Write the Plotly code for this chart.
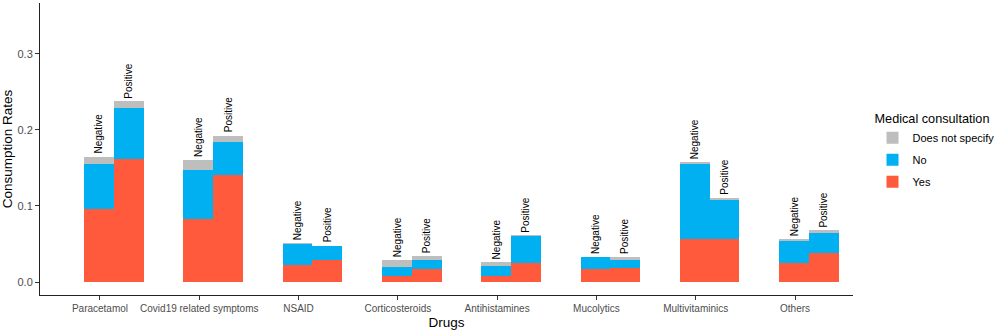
import plotly.graph_objects as go

drugs = ["Paracetamol", "Covid19 related symptoms", "NSAID", "Corticosteroids",
         "Antihistamines", "Mucolytics", "Multivitaminics", "Others"]
groups = ["Negative", "Positive"]

yes_neg = [0.096, 0.083, 0.022, 0.008, 0.008, 0.017, 0.057, 0.025]
no_neg = [0.059, 0.064, 0.028, 0.012, 0.013, 0.0165, 0.099, 0.029]
dns_neg = [0.010, 0.014, 0.0005, 0.0085, 0.005, 0.0, 0.0012, 0.0022]

yes_pos = [0.162, 0.141, 0.029, 0.017, 0.025, 0.019, 0.057, 0.0375]
no_pos = [0.067, 0.043, 0.019, 0.012, 0.036, 0.011, 0.0505, 0.027]
dns_pos = [0.0085, 0.0085, 0.0, 0.005, 0.0005, 0.0025, 0.0035, 0.0035]

y_ticks = [0.0, 0.1, 0.2, 0.3]

colors = {"Yes": "#FF5A3C", "No": "#00B0F0", "Does not specify": "#BEBEBE"}
legend_rank = {"Does not specify": 1, "No": 2, "Yes": 3}

# positions: negative bar on the category tick, positive bar nudged right
BW = 0.3
xs, labels = [], []
for i in range(len(drugs)):
    xs.append(i + 1 - 0.01)
    labels.append(groups[0])
    xs.append(i + 1 + BW - 0.01)
    labels.append(groups[1])

def interleave(a, b):
    out = []
    for u, v in zip(a, b):
        out += [u, v]
    return out

series = [
    ("Yes", interleave(yes_neg, yes_pos)),
    ("No", interleave(no_neg, no_pos)),
    ("Does not specify", interleave(dns_neg, dns_pos)),
]

fig = go.Figure()
for name, vals in series:
    fig.add_trace(go.Bar(
        x=xs, y=vals, width=BW, name=name, legendgroup=name,
        legendrank=legend_rank[name],
        marker=dict(color=colors[name], line=dict(width=0)),
    ))

totals = [a + b + c for a, b, c in zip(*[s[1] for s in series])]
for x, t, lab in zip(xs, totals, labels):
    fig.add_annotation(
        x=x, y=t, text=lab, textangle=-90, showarrow=False,
        xanchor="center", yanchor="bottom", yshift=1,
        font=dict(family="Arial, Liberation Sans, sans-serif", size=10, color="black"),
    )

axis_common = dict(
    showgrid=False, zeroline=False, showline=True, linecolor="#222222", linewidth=1,
    ticks="outside", ticklen=4, tickcolor="#333333", tickwidth=1,
)

fig.update_layout(
    width=996, height=331,
    margin=dict(l=40, r=143, t=3, b=36, autoexpand=False),
    plot_bgcolor="white", paper_bgcolor="white",
    barmode="stack", bargap=0,
    font=dict(family="Arial, Liberation Sans, sans-serif", color="#4D4D4D"),
    xaxis=dict(
        range=[0.396, 8.584], tickmode="array",
        tickvals=list(range(1, len(drugs) + 1)), ticktext=drugs,
        tickfont=dict(size=10, color="#4D4D4D"),
        title=dict(text="Drugs", font=dict(size=13.5, color="black"), standoff=4),
        **axis_common,
    ),
    yaxis=dict(
        range=[-0.0171, 0.367], tickmode="array", tickvals=y_ticks,
        ticktext=[f"{v:.1f}" for v in y_ticks],
        tickfont=dict(size=11, color="#4D4D4D"),
        title=dict(text="Consumption Rates", font=dict(size=13.5, color="black"), standoff=2),
        **axis_common,
    ),
    legend=dict(
        x=1.024, y=0.645, xanchor="left", yanchor="top",
        traceorder="grouped", tracegroupgap=3,
        title=dict(text="Medical consultation", font=dict(size=12.7, color="black")),
        font=dict(size=11, color="black"),
        bgcolor="rgba(0,0,0,0)",
    ),
)

fig.write_html(
    "out.html",
    config={"displayModeBar": False},
    post_script="document.body.style.margin='0px';document.body.style.overflow='hidden';",
)
